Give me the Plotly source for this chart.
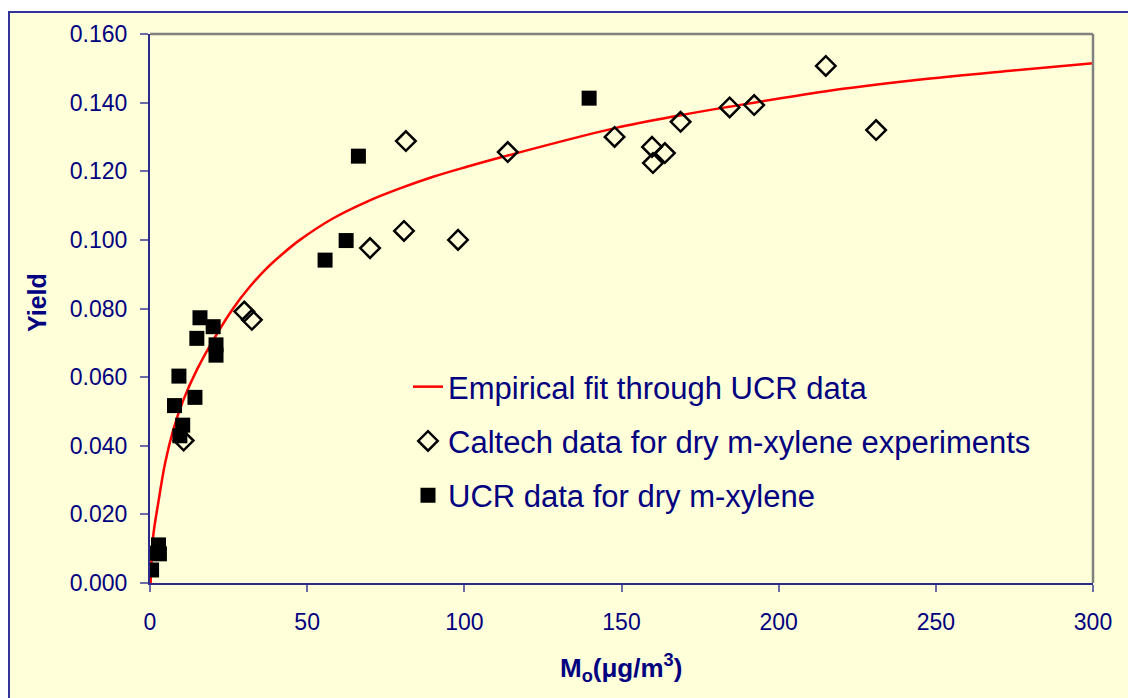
import plotly.graph_objects as go

# Empirical fit curve
fit_x = [0.2, 1.0, 2.6, 4.8, 7.4, 10.6, 14.9, 20.1, 26.5, 31.8, 37.1, 42.4, 47.7, 58.3,
         68.9, 79.5, 90.1, 100.8, 111.4, 147.6, 169.2, 184.3, 214, 243.8, 273.7, 300]
fit_y = [0.0, 0.0135, 0.0232, 0.0349, 0.0446, 0.0533, 0.0621, 0.0708, 0.0801, 0.0864,
         0.0917, 0.0961, 0.1000, 0.1063, 0.1111, 0.1150, 0.1184, 0.1213, 0.1240, 0.1325,
         0.1364, 0.1388, 0.1432, 0.1466, 0.1493, 0.1515]

# Caltech data (open diamonds)
caltech_x = [10.7, 30.0, 32.4, 70.0, 80.8, 81.4, 98.0, 113.8, 147.8, 159.7, 160.0, 163.8,
             168.8, 184.4, 192.2, 215.0, 231.0]
caltech_y = [0.0415, 0.0791, 0.0767, 0.0976, 0.1026, 0.1288, 0.1000, 0.1256, 0.1300, 0.1271,
             0.1224, 0.1253, 0.1344, 0.1386, 0.1393, 0.1507, 0.1320]

# UCR data (filled squares)
ucr_x = [0.5, 1.9, 3.0, 2.7, 9.5, 10.4, 7.8, 14.3, 9.2, 21.0, 21.0, 14.9, 20.1, 15.9,
         55.7, 62.4, 66.3, 139.7]
ucr_y = [0.0038, 0.0087, 0.0085, 0.0111, 0.0429, 0.0460, 0.0517, 0.0541, 0.0603, 0.0664,
         0.0694, 0.0713, 0.0747, 0.0773, 0.0941, 0.0998, 0.1244, 0.1413]

x_ticks = [0, 50, 100, 150, 200, 250, 300]
y_ticks = [0.0, 0.02, 0.04, 0.06, 0.08, 0.10, 0.12, 0.14, 0.16]

NAVY = "#000080"
BG = "#FFFFD9"
FONT = "Arial, Liberation Sans, sans-serif"

fig = go.Figure()
fig.add_trace(go.Scatter(
    x=fit_x, y=fit_y, mode="lines", line=dict(color="#FF0000", width=2.5, shape="spline"),
    name="Empirical fit through UCR data", legendgroup="a"))
fig.add_trace(go.Scatter(
    x=caltech_x, y=caltech_y, mode="markers",
    marker=dict(symbol="diamond-open", size=15, color="black", line=dict(color="black", width=2.5)),
    name="Caltech data for dry m-xylene experiments", legendgroup="b"))
fig.add_trace(go.Scatter(
    x=ucr_x, y=ucr_y, mode="markers",
    marker=dict(symbol="square", size=15, color="black"),
    name="UCR data for dry m-xylene", legendgroup="c"))

OFF = 8  # page body margin
W, H = 1128, 690
L, R, T, B = 142, 43, 26, 115
pw, ph = W - L - R, H - T - B

def px_x(p):
    # page pixel -> paper fraction
    return (p - OFF - L) / pw

def px_y(p):
    return (H - B - (p - OFF)) / ph

fig.update_layout(
    width=W, height=H,
    margin=dict(l=L, r=R, t=T, b=B, pad=0, autoexpand=False),
    paper_bgcolor="white", plot_bgcolor=BG,
    font=dict(family=FONT, color=NAVY),
    showlegend=True,
    legend=dict(x=px_x(408), y=px_y(360), xanchor="left", yanchor="top",
                bgcolor="rgba(0,0,0,0)", font=dict(size=31, color=NAVY, family=FONT),
                traceorder="grouped", tracegroupgap=11),
    xaxis=dict(range=[0, 300], tickvals=x_ticks, ticktext=[str(v) for v in x_ticks],
               showgrid=False, zeroline=False, showline=True, linecolor="#2B2B8C", linewidth=2,
               ticks="outside", ticklen=7, tickwidth=1.5, tickcolor="#6B6BA8",
               tickfont=dict(size=23, color=NAVY, family=FONT), ticklabelstandoff=10,
               automargin=False),
    yaxis=dict(range=[0, 0.16], tickvals=y_ticks, ticktext=[f"{v:.3f}" for v in y_ticks],
               showgrid=False, zeroline=False, showline=True, linecolor="#2B2B8C", linewidth=2,
               ticks="outside", ticklen=8, tickwidth=1.5, tickcolor="#6B6BA8",
               tickfont=dict(size=23, color=NAVY, family=FONT), ticklabelstandoff=8,
               automargin=False),
    shapes=[
        dict(type="rect", xref="paper", yref="paper", layer="below",
             x0=px_x(9), x1=px_x(1160), y0=px_y(720), y1=px_y(12),
             fillcolor=BG, line=dict(color="#333399", width=2)),
        dict(type="line", xref="paper", yref="paper", x0=0, x1=1, y0=1, y1=1,
             line=dict(color="#808080", width=2.5)),
        dict(type="line", xref="paper", yref="paper", x0=1, x1=1, y0=0, y1=1,
             line=dict(color="#808080", width=2.5)),
    ],
    annotations=[
        dict(text="<b>Yield</b>", xref="paper", yref="paper", x=px_x(37), y=px_y(303),
             showarrow=False, textangle=-90, xanchor="center", yanchor="middle",
             font=dict(size=25, color=NAVY, family=FONT)),
        dict(text="<b>M<sub>o</sub>(\u03bcg/m<sup>3</sup>)</b>", xref="paper", yref="paper",
             x=px_x(621), y=px_y(668), showarrow=False, xanchor="center", yanchor="middle",
             font=dict(size=26, color=NAVY, family=FONT)),
    ],
)

fig.write_html("out.html")
